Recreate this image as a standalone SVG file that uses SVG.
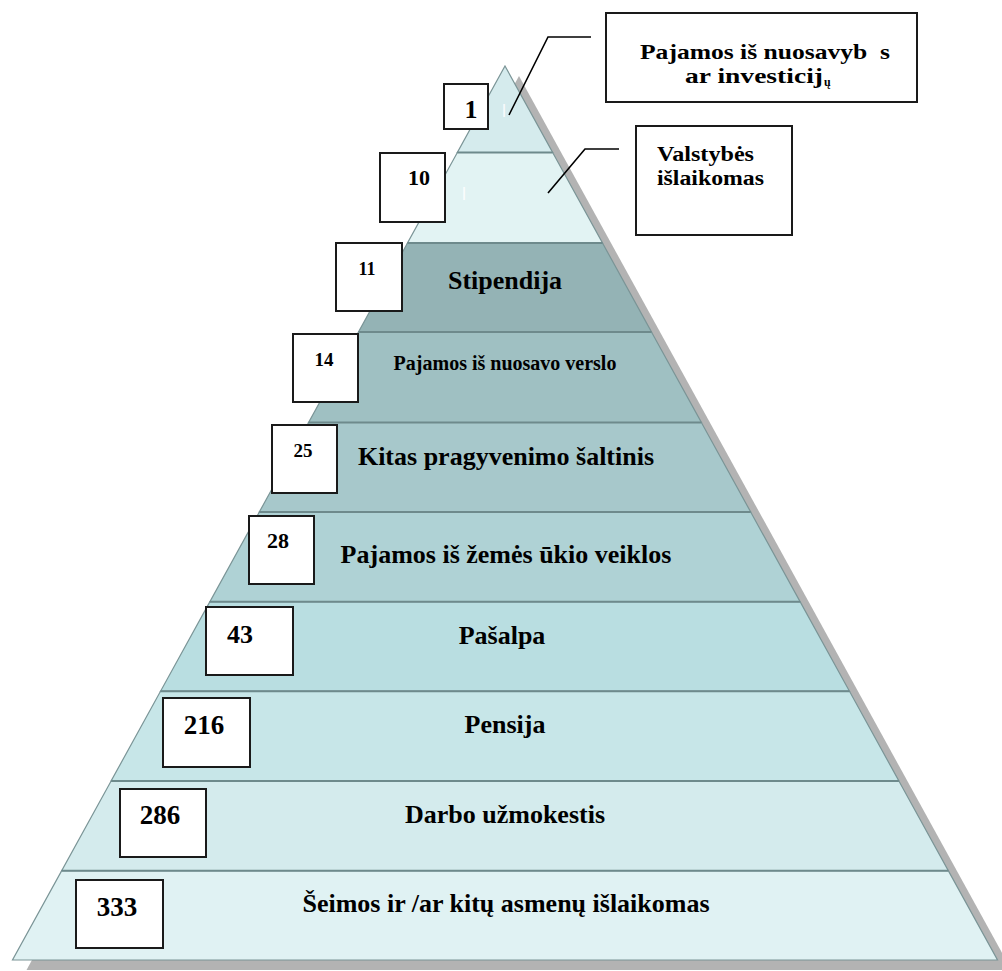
<svg xmlns="http://www.w3.org/2000/svg" width="1002" height="971" viewBox="0 0 1002 971">
<style>
.band{stroke:#7a9496;stroke-width:1.2}
.sep{stroke:#6e8a8c;stroke-width:2;fill:none}
.box{fill:#ffffff;stroke:#1a1a1a;stroke-width:2}
.num{font-family:"Liberation Serif","Times New Roman",serif;font-weight:bold;fill:#000;text-anchor:middle}
.lbl{font-family:"Liberation Serif","Times New Roman",serif;font-weight:bold;fill:#000;text-anchor:middle;font-size:26px}
.note{font-family:"Liberation Serif","Times New Roman",serif;font-weight:bold;fill:#000}
.ghost{font-family:"Liberation Sans",Arial,sans-serif;fill:#ffffff;opacity:0.85;font-size:18px}
.conn{stroke:#000;stroke-width:1.6;fill:none}
</style>
<rect x="0" y="0" width="1002" height="971" fill="#ffffff"/>
<polygon id="shadow" points="519,76 1011.5,970 26.5,970" fill="#b3b3b3"/>
<g id="band-1">
<polygon class="band" points="505,66 552.65,152.5 457.35,152.5" fill="#d5ebed"/>
<text class="ghost" x="502" y="117">l</text>
<rect class="box" x="444" y="84" width="44" height="45"/>
<text class="num" x="471" y="118" font-size="26">1</text>
</g>
<g id="band-10">
<polygon class="band" points="457.35,152.5 552.65,152.5 602.5,243 407.5,243" fill="#e2f3f3"/>
<line class="sep" x1="457.35" y1="152.5" x2="552.65" y2="152.5"/>
<text class="ghost" x="462" y="200">l</text>
<rect class="box" x="380" y="153" width="65" height="69"/>
<text class="num" x="419" y="185" font-size="22">10</text>
</g>
<g id="band-11">
<polygon class="band" points="407.5,243 602.5,243 651.5,332 358.5,332" fill="#94b3b5"/>
<line class="sep" x1="407.5" y1="243" x2="602.5" y2="243"/>
<rect class="box" x="336" y="243" width="66" height="68"/>
<text class="num" x="367" y="275" font-size="18">11</text>
<text class="lbl" x="505" y="289">Stipendija</text>
</g>
<g id="band-14">
<polygon class="band" points="358.5,332 651.5,332 701.4,422.5 308.6,422.5" fill="#9fc0c2"/>
<line class="sep" x1="358.5" y1="332" x2="651.5" y2="332"/>
<rect class="box" x="293" y="334" width="65" height="68"/>
<text class="num" x="324" y="366" font-size="19">14</text>
<text class="lbl" x="505" y="370" style="font-size:20px">Pajamos iš nuosavo verslo</text>
</g>
<g id="band-25">
<polygon class="band" points="308.6,422.5 701.4,422.5 750.7,512 259.3,512" fill="#a7c8cb"/>
<line class="sep" x1="308.6" y1="422.5" x2="701.4" y2="422.5"/>
<rect class="box" x="272" y="425" width="65" height="68"/>
<text class="num" x="303" y="457" font-size="19">25</text>
<text class="lbl" x="506" y="465">Kitas pragyvenimo šaltinis</text>
</g>
<g id="band-28">
<polygon class="band" points="259.3,512 750.7,512 800.1,601.7 209.9,601.7" fill="#afd2d5"/>
<line class="sep" x1="259.3" y1="512" x2="750.7" y2="512"/>
<rect class="box" x="249" y="516" width="65" height="68"/>
<text class="num" x="278" y="548" font-size="22">28</text>
<text class="lbl" x="506" y="563">Pajamos iš žemės ūkio veiklos</text>
</g>
<g id="band-43">
<polygon class="band" points="209.9,601.7 800.1,601.7 849.5,691.3 160.5,691.3" fill="#b9dee1"/>
<line class="sep" x1="209.9" y1="601.7" x2="800.1" y2="601.7"/>
<rect class="box" x="206" y="607" width="87" height="68"/>
<text class="num" x="240" y="643" font-size="26">43</text>
<text class="lbl" x="502" y="644">Pašalpa</text>
</g>
<g id="band-216">
<polygon class="band" points="160.5,691.3 849.5,691.3 898.9,781 111.1,781" fill="#c7e6e8"/>
<line class="sep" x1="160.5" y1="691.3" x2="849.5" y2="691.3"/>
<rect class="box" x="163" y="698" width="87" height="69"/>
<text class="num" x="204" y="734" font-size="27">216</text>
<text class="lbl" x="505" y="733">Pensija</text>
</g>
<g id="band-286">
<polygon class="band" points="111.1,781 898.9,781 948.3,870.7 61.7,870.7" fill="#d4ebed"/>
<line class="sep" x1="111.1" y1="781" x2="898.9" y2="781"/>
<rect class="box" x="120" y="789" width="86" height="68"/>
<text class="num" x="160" y="824" font-size="27">286</text>
<text class="lbl" x="505" y="823">Darbo užmokestis</text>
</g>
<g id="band-333">
<polygon class="band" points="61.7,870.7 948.3,870.7 997.5,960 12.5,960" fill="#e0f2f3"/>
<line class="sep" x1="61.7" y1="870.7" x2="948.3" y2="870.7"/>
<rect class="box" x="76" y="880" width="87" height="68"/>
<text class="num" x="117" y="916" font-size="27">333</text>
<text class="lbl" x="506" y="912">Šeimos ir /ar kitų asmenų išlaikomas</text>
</g>
<g id="note-investicijos">
<rect class="box" x="606" y="13" width="311" height="89"/>
<text class="note" x="640" y="59" font-size="22" textLength="250" lengthAdjust="spacingAndGlyphs" xml:space="preserve">Pajamos iš nuosavyb  s</text>
<text class="note" x="685" y="83" font-size="21" textLength="138" lengthAdjust="spacingAndGlyphs">ar investicij</text>
<text class="note" x="824" y="86" font-size="12">ų</text>
</g>
<g id="note-valstybes">
<rect class="box" x="636" y="126" width="156" height="109"/>
<text class="note" x="657" y="161" font-size="20.5" textLength="97" lengthAdjust="spacingAndGlyphs">Valstybės</text>
<text class="note" x="657" y="185" font-size="20.5" textLength="107" lengthAdjust="spacingAndGlyphs">išlaikomas</text>
</g>
<g id="connectors">
<polyline class="conn" points="509,115 548,37 591,37"/>
<polyline class="conn" points="548,193 585,149 619,149"/>
</g>
</svg>
